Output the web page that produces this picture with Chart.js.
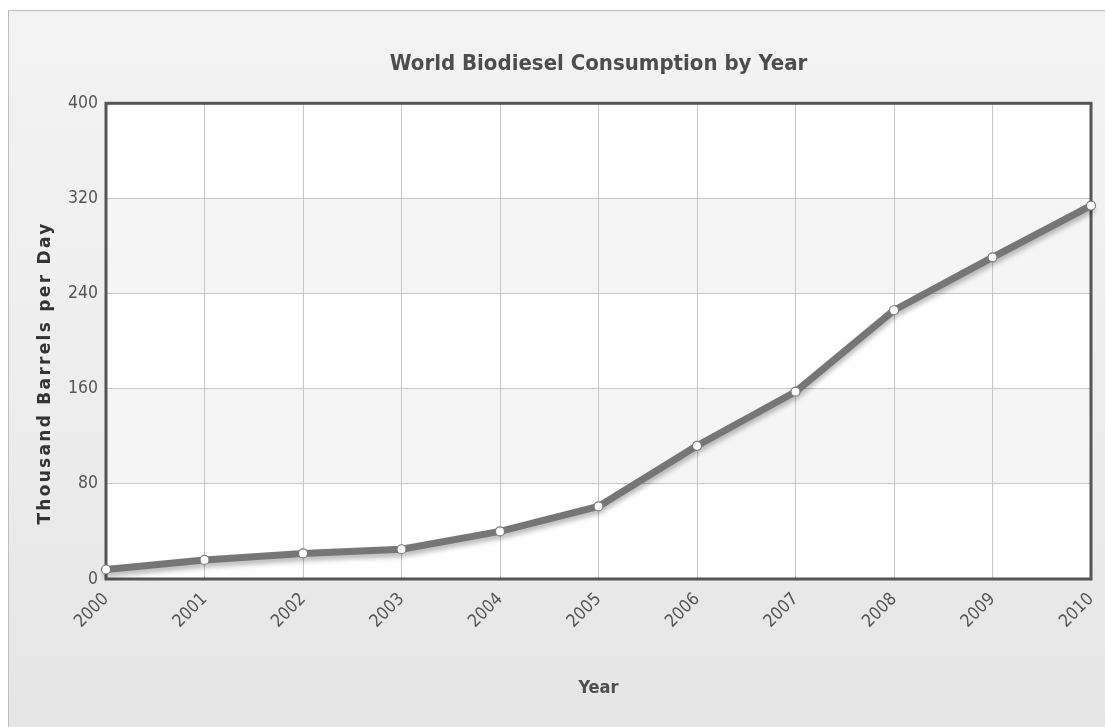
<!DOCTYPE html>
<html>
<head>
<meta charset="utf-8">
<title>World Biodiesel Consumption by Year</title>
<script src="https://cdn.jsdelivr.net/npm/chart.js@4.4.1/dist/chart.umd.min.js"></script>
<style>
  html, body { margin: 0; padding: 0; width: 1105px; height: 727px; overflow: hidden; background: #ffffff; }
  #frame {
    position: absolute; left: 8px; top: 10px; width: 1200px; height: 760px;
    border: 1px solid #bdbdbd;
    background: linear-gradient(to bottom, #f3f3f3 0%, #eeeeee 45%, #e4e4e4 100%);
  }
  #chart { position: absolute; left: 0; top: 0; }
</style>
</head>
<body>
<div id="frame"><canvas id="chart" width="1096" height="716"></canvas></div>
<script>
// Years on the horizontal axis
const years = ['2000', '2001', '2002', '2003', '2004', '2005', '2006', '2007', '2008', '2009', '2010'];
// World biodiesel consumption, thousand barrels per day
const consumption = [8, 16, 21.5, 25, 40, 61, 112, 157.5, 226, 270.5, 314];
// Value axis range and tick step
const yMin = 0;
const yMax = 400;
const yStep = 80;
// Value bands shaded light grey behind the grid
const shadedBands = [[80, 160], [240, 320]];

const chartTitle = 'World Biodiesel Consumption by Year';
const yTitle = 'Thousand Barrels per Day';
const xTitle = 'Year';

const narrow = '"DejaVu Sans Condensed", "Noto Sans", sans-serif';

// Plot background: white with alternating grey bands
const plotBackground = {
  id: 'plotBackground',
  beforeDraw(chart) {
    const { ctx, chartArea: a, scales: { y } } = chart;
    ctx.save();
    ctx.fillStyle = '#ffffff';
    ctx.fillRect(a.left, a.top, a.right - a.left, a.bottom - a.top);
    ctx.fillStyle = '#f5f5f5';
    shadedBands.forEach(([lo, hi]) => {
      const top = y.getPixelForValue(hi);
      const bottom = y.getPixelForValue(lo);
      ctx.fillRect(a.left, top, a.right - a.left, bottom - top);
    });
    ctx.restore();
  }
};

// Heavy frame round the plot, under the line
const plotFrame = {
  id: 'plotFrame',
  beforeDatasetsDraw(chart) {
    const { ctx, chartArea: a } = chart;
    ctx.save();
    ctx.strokeStyle = '#555555';
    ctx.lineWidth = 3;
    ctx.strokeRect(a.left, a.top, a.right - a.left, a.bottom - a.top);
    ctx.restore();
  }
};

// Soft drop shadow under the thick line only
const lineShadow = {
  id: 'lineShadow',
  beforeDatasetDraw(chart, args) {
    if (args.index !== 0) return;
    const ctx = chart.ctx;
    ctx.save();
    ctx.shadowColor = 'rgba(0, 0, 0, 0.28)';
    ctx.shadowBlur = 5;
    ctx.shadowOffsetX = 0;
    ctx.shadowOffsetY = 4;
  },
  afterDatasetDraw(chart, args) {
    if (args.index !== 0) return;
    chart.ctx.restore();
  }
};

// Vertical value-axis title, letter-spaced
const verticalTitle = {
  id: 'verticalTitle',
  afterDraw(chart) {
    const ctx = chart.ctx;
    ctx.save();
    ctx.translate(36.5, 362);
    ctx.rotate(-Math.PI / 2);
    ctx.font = 'bold 17px "DejaVu Sans", sans-serif';
    if ('letterSpacing' in ctx) ctx.letterSpacing = '2.3px';
    ctx.fillStyle = '#333333';
    ctx.textAlign = 'center';
    ctx.textBaseline = 'middle';
    ctx.fillText(yTitle, 0, 0);
    ctx.restore();
  }
};

new Chart(document.getElementById('chart'), {
  type: 'line',
  data: {
    labels: years,
    datasets: [
      {
        data: consumption,
        order: 2,
        borderColor: '#767676',
        borderWidth: 7,
        pointRadius: 0,
        pointHoverRadius: 0,
        tension: 0,
        fill: false,
        clip: false,
        borderJoinStyle: 'round',
        borderCapStyle: 'round'
      },
      {
        data: consumption,
        order: 1,
        showLine: false,
        pointRadius: 4.5,
        pointHoverRadius: 4.5,
        pointBackgroundColor: '#ffffff',
        pointBorderColor: '#7a7a7a',
        pointBorderWidth: 1.2,
        clip: false
      }
    ]
  },
  options: {
    responsive: false,
    animation: false,
    events: [],
    layout: { padding: { left: 0, right: 14, top: 0, bottom: 0 } },
    plugins: {
      legend: { display: false },
      tooltip: { enabled: false },
      title: {
        display: true,
        text: chartTitle,
        fullSize: false,
        color: '#4d4d4d',
        font: { family: narrow, size: 22, weight: 'bold' },
        padding: { top: 40.5, bottom: 25.4 }
      }
    },
    scales: {
      x: {
        type: 'category',
        offset: false,
        grid: { color: '#c6c6c6', lineWidth: 1, drawTicks: false },
        border: { display: false },
        ticks: {
          color: '#555555',
          font: { family: narrow, size: 17.5 },
          maxRotation: 45,
          minRotation: 45,
          autoSkip: false,
          padding: 10
        },
        title: {
          display: true,
          text: xTitle,
          color: '#4d4d4d',
          font: { family: narrow, size: 18, weight: 'bold' },
          padding: { top: 0, bottom: 27.4 }
        },
        afterFit(scale) {
          scale.height = 148;
          scale.paddingRight = 0;
        }
      },
      y: {
        min: yMin,
        max: yMax,
        grid: { color: '#c6c6c6', lineWidth: 1, drawTicks: false },
        border: { display: false },
        ticks: {
          stepSize: yStep,
          color: '#555555',
          font: { family: narrow, size: 17.5 },
          padding: 8
        },
        afterFit(scale) { scale.width = 97; }
      }
    }
  },
  plugins: [plotBackground, plotFrame, lineShadow, verticalTitle]
});
</script>
</body>
</html>
